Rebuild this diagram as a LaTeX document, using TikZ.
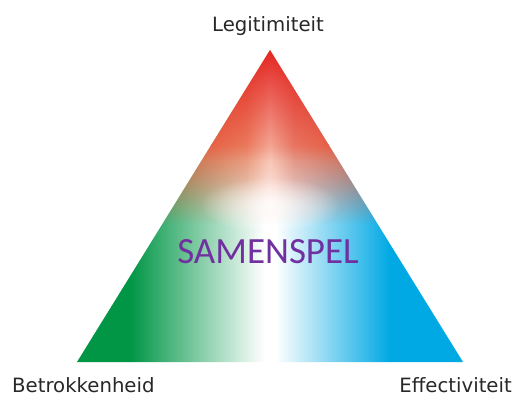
\documentclass[tikz,border=0pt]{standalone}
\usepackage{fontspec}
\setmainfont{DejaVu Sans}
\newfontfamily\calib{Carlito}
\usetikzlibrary{fadings}
\definecolor{tgreen}{RGB}{0,150,70}
\definecolor{tblue}{RGB}{0,168,228}
\definecolor{tred}{RGB}{226,24,22}
\definecolor{tredmid}{RGB}{229,90,56}
\definecolor{tredl}{RGB}{236,135,102}
\definecolor{tredr}{RGB}{233,130,108}
\definecolor{tsalmon}{RGB}{246,185,166}
\definecolor{tpurple}{RGB}{112,48,160}
\definecolor{ttext}{RGB}{40,40,40}
\pgfdeclarehorizontalshading{gwb}{100bp}{color(0bp)=(tgreen); color(32.5bp)=(tgreen); color(49.3bp)=(white); color(50.7bp)=(white); color(65bp)=(tblue); color(100bp)=(tblue)}
\pgfdeclarehorizontalshading{redh}{100bp}{color(0bp)=(tredmid); color(39bp)=(tredmid); color(47bp)=(tredl); color(50bp)=(tsalmon); color(53bp)=(tredr); color(61bp)=(tredmid); color(100bp)=(tredmid)}
\tikzfading[name=redfade, top color=transparent!0, middle color=transparent!25, bottom color=transparent!100]
\tikzfading[name=apexfade, top color=transparent!0, bottom color=transparent!100]
\tikzfading[name=glow, inner color=transparent!20, outer color=transparent!100]
\tikzset{
  lbl/.style={font=\fontsize{19.7}{24}\selectfont, text=ttext, inner sep=0pt},
  centre/.style={font=\calib\fontsize{37}{40}\selectfont, text=tpurple, inner sep=0pt, anchor=base}
}
\begin{document}
\begin{tikzpicture}[x=1pt,y=-1pt]
\useasboundingbox (0,0) rectangle (519,396);
\fill[white] (0,0) rectangle (519,396);
\coordinate (A) at (270,50);
\coordinate (B) at (77,362);
\coordinate (C) at (463,362);
\begin{scope}
  \clip (A) -- (B) -- (C) -- cycle;
  % lower colours: green - white - blue
  \shade[shading=gwb] (70,40) rectangle (470,370);
  % red, opaque part
  \shade[shading=redh] (70,40) rectangle (470,145);
  % red, fading part
  \shade[shading=redh, path fading=redfade] (70,145) rectangle (470,224);
  % deep red at the apex
  \fill[tred, path fading=apexfade] (200,40) rectangle (340,160);
  % white glow in the centre
  \fill[white, path fading=glow] (270,205) ellipse (70 and 28);
\end{scope}
\node[lbl, anchor=base] (leg) at (268,32) {Legitimiteit};
\node[lbl, anchor=base west] (bet) at (12,392) {Betrokkenheid};
\node[lbl, anchor=base east] (eff) at (512,392) {Effectiviteit};
\node[centre] (sam) at (268,263) {SAMENSPEL};
\end{tikzpicture}
\end{document}
